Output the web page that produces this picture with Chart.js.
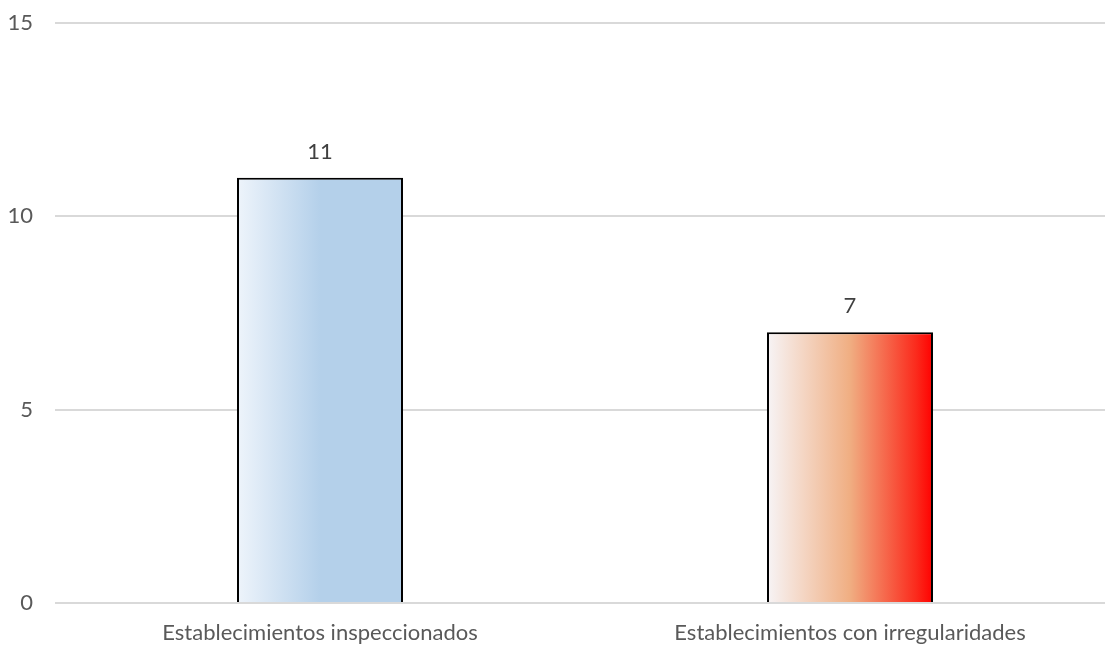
<!DOCTYPE html>
<html>
<head>
<meta charset="utf-8">
<script src="https://cdn.jsdelivr.net/npm/chart.js@4.4.0/dist/chart.umd.min.js"></script>
<style>
	html, body { margin: 0; padding: 0; background: #ffffff; overflow: hidden; }
	#wrap { width: 1115px; height: 646px; }
</style>
</head>
<body>
<div id="wrap"><canvas id="barChart"></canvas></div>
<script>
const categories = ["Establecimientos inspeccionados", "Establecimientos con irregularidades"];
const counts = [11, 7];
const yTicks = [0, 5, 10, 15];

// gradient stops per bar (left -> right)
const barStops = [
	[[0, "#eef4fb"], [0.5, "#b4d0ea"], [1, "#b4d0ea"]],
	[[0, "#f7f4f6"], [0.5, "#f0ae82"], [0.9, "#fb2a1c"], [1, "#ff0000"]],
];
const BAR_PCT = 0.3132;
const FONT = "Lato, 'Open Sans', sans-serif";

function barGradient(context) {
	const chart = context.chart;
	const area = chart.chartArea;
	const i = context.dataIndex;
	if (!area || !chart.scales.x) return barStops[i][1][1];
	const cx = chart.scales.x.getPixelForValue(i);
	const half = (area.width / categories.length) * BAR_PCT / 2;
	const g = chart.ctx.createLinearGradient(cx - half, 0, cx + half, 0);
	barStops[i].forEach((s) => g.addColorStop(s[0], s[1]));
	return g;
}

const valueLabels = {
	id: "valueLabels",
	afterDatasetsDraw(chart) {
		const ctx = chart.ctx;
		const meta = chart.getDatasetMeta(0);
		ctx.save();
		ctx.font = "22px " + FONT;
		ctx.fillStyle = "#404040";
		ctx.textAlign = "center";
		ctx.textBaseline = "middle";
		meta.data.forEach((bar, i) => {
			ctx.fillText(String(counts[i]), bar.x, bar.y - 26);
		});
		ctx.restore();
	},
};

const ctx = document.getElementById("barChart").getContext("2d");
new Chart(ctx, {
	type: "bar",
	data: {
		labels: categories,
		datasets: [
			{
				data: counts,
				backgroundColor: barGradient,
				borderColor: "#000000",
				borderWidth: 2,
				barPercentage: BAR_PCT,
				categoryPercentage: 1,
			},
		],
	},
	options: {
		responsive: true,
		maintainAspectRatio: false,
		animation: false,
		layout: { padding: { left: 0, right: 0, top: 23, bottom: 0 } },
		plugins: {
			legend: { display: false },
			tooltip: { enabled: false },
		},
		scales: {
			x: {
				afterFit: (axis) => {
					axis.height = 43;
					axis.paddingLeft = 0;
					axis.paddingRight = 0;
				},
				grid: { display: false, drawTicks: false },
				border: { display: false },
				ticks: { color: "#595959", font: { family: FONT, size: 22 }, padding: 17, maxRotation: 0, autoSkip: false },
			},
			y: {
				min: 0,
				max: 15,
				afterBuildTicks: (axis) => { axis.ticks = yTicks.map((v) => ({ value: v })); },
				afterFit: (axis) => {
					axis.width = 55;
					axis.paddingTop = 0;
					axis.paddingBottom = 0;
				},
				grid: { color: "#d9d9d9", lineWidth: 2, drawTicks: false },
				border: { display: false },
				ticks: { color: "#595959", font: { family: FONT, size: 22 }, padding: 22 },
			},
		},
	},
	plugins: [valueLabels],
});
</script>
</body>
</html>
